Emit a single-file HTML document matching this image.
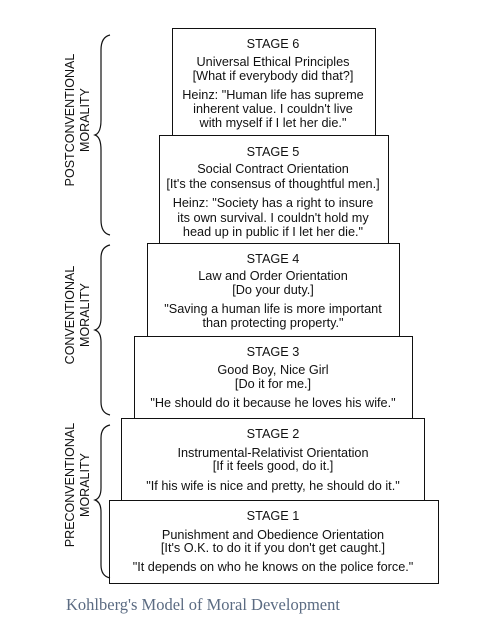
<!DOCTYPE html>
<html><head><style>
body{margin:0;width:490px;height:625px;background:#fff;position:relative;overflow:hidden;font-family:"Liberation Sans",Arial,sans-serif;}
.b{position:absolute;border:1.3px solid #111;box-sizing:border-box;background:#fff;}
.t{position:absolute;left:28px;width:490px;text-align:center;font-size:12.7px;line-height:14px;color:#111;white-space:nowrap;}
.lab{position:absolute;font-size:12.5px;line-height:15px;text-align:center;transform:rotate(-90deg);transform-origin:center;white-space:nowrap;color:#111;}
.cap{position:absolute;left:66px;top:595px;font-family:"Liberation Serif",serif;font-size:16.5px;color:#5b6b82;}
</style></head><body>
<div class="b" style="left:172px;top:28px;width:204px;height:108px"></div>
<div class="b" style="left:159px;top:135px;width:230px;height:109px"></div>
<div class="b" style="left:147px;top:243px;width:253px;height:94px"></div>
<div class="b" style="left:134px;top:336px;width:279px;height:83px"></div>
<div class="b" style="left:121px;top:418px;width:304px;height:83px"></div>
<div class="b" style="left:109px;top:500px;width:330px;height:84px"></div>

<div class="t" style="top:37px">STAGE 6</div>
<div class="t" style="top:55px">Universal Ethical Principles</div>
<div class="t" style="top:69px">[What if everybody did that?]</div>
<div class="t" style="top:88px">Heinz: "Human life has supreme</div>
<div class="t" style="top:102px">inherent value. I couldn't live</div>
<div class="t" style="top:116px">with myself if I let her die."</div>

<div class="t" style="top:145px">STAGE 5</div>
<div class="t" style="top:162px">Social Contract Orientation</div>
<div class="t" style="top:177px">[It's the consensus of thoughtful men.]</div>
<div class="t" style="top:196px">Heinz: "Society has a right to insure</div>
<div class="t" style="top:211px">its own survival. I couldn't hold my</div>
<div class="t" style="top:225px">head up in public if I let her die."</div>

<div class="t" style="top:252px">STAGE 4</div>
<div class="t" style="top:269px">Law and Order Orientation</div>
<div class="t" style="top:283px">[Do your duty.]</div>
<div class="t" style="top:302px">"Saving a human life is more important</div>
<div class="t" style="top:316px">than protecting property."</div>

<div class="t" style="top:345px">STAGE 3</div>
<div class="t" style="top:363px">Good Boy, Nice Girl</div>
<div class="t" style="top:377px">[Do it for me.]</div>
<div class="t" style="top:396px">"He should do it because he loves his wife."</div>

<div class="t" style="top:427px">STAGE 2</div>
<div class="t" style="top:446px">Instrumental-Relativist Orientation</div>
<div class="t" style="top:459px">[If it feels good, do it.]</div>
<div class="t" style="top:479px">"If his wife is nice and pretty, he should do it."</div>

<div class="t" style="top:509px">STAGE 1</div>
<div class="t" style="top:528px">Punishment and Obedience Orientation</div>
<div class="t" style="top:541px">[It's O.K. to do it if you don't get caught.]</div>
<div class="t" style="top:560px">"It depends on who he knows on the police force."</div>

<svg style="position:absolute;left:0;top:0" width="490" height="625">
<g fill="none" stroke="#111" stroke-width="1.2">
<path d="M110 35 Q101 37 101 50 L101 120 Q101 133 95 135 Q101 137 101 150 L101 220 Q101 233 110 235"/>
<path d="M110 245 Q101 247 101 258 L101 318 Q101 328 95 330 Q101 332 101 342 L101 402 Q101 413 110 415"/>
<path d="M110 425 Q101 427 101 438 L101 488 Q101 498 95 500 Q101 502 101 512 L101 565 Q101 576 110 578"/>
</g></svg>
<div class="lab" style="left:-2px;top:105px;width:160px;">POSTCONVENTIONAL<br>MORALITY</div>
<div class="lab" style="left:-2px;top:300px;width:160px;">CONVENTIONAL<br>MORALITY</div>
<div class="lab" style="left:-2px;top:470px;width:160px;">PRECONVENTIONAL<br>MORALITY</div>
<div class="cap">Kohlberg's Model of Moral Development</div>
</body></html>
